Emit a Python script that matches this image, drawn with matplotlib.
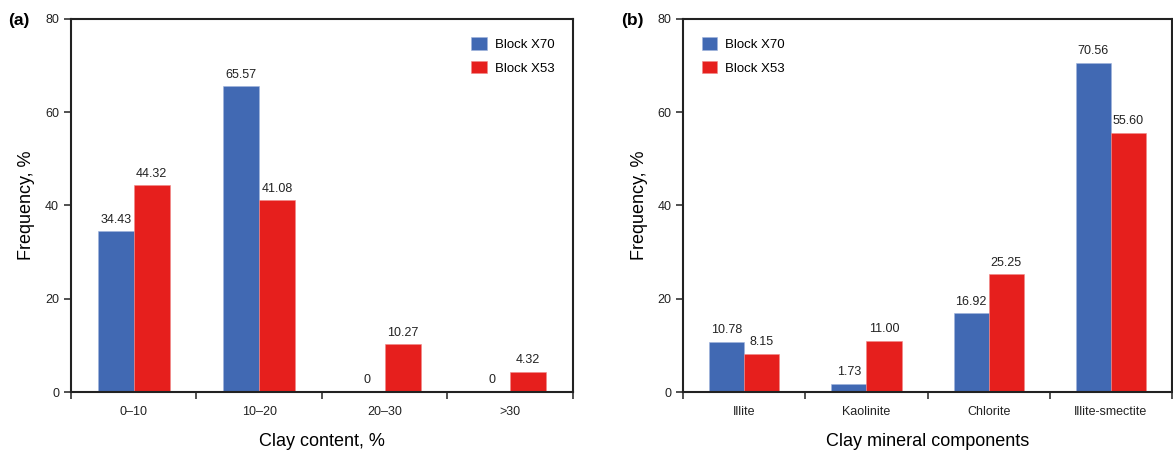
import matplotlib.pyplot as plt
import numpy as np

plt.rcParams['font.family'] = ['Liberation Sans', 'DejaVu Sans']

BLUE = '#4169B3'
RED = '#E61F1D'

content_cats = ['0\u201310', '10\u201320', '20\u201330', '>30']
content_x70 = [34.43, 65.57, 0, 0]
content_x53 = [44.32, 41.08, 10.27, 4.32]
content_x70_lbl = ['34.43', '65.57', '0', '0']
content_x53_lbl = ['44.32', '41.08', '10.27', '4.32']

mineral_cats = ['Illite', 'Kaolinite', 'Chlorite', 'Illite-smectite']
mineral_x70 = [10.78, 1.73, 16.92, 70.56]
mineral_x53 = [8.15, 11.00, 25.25, 55.60]
mineral_x70_lbl = ['10.78', '1.73', '16.92', '70.56']
mineral_x53_lbl = ['8.15', '11.00', '25.25', '55.60']

fig = plt.figure(figsize=(11.73, 4.51), dpi=100)
ax1 = fig.add_axes([0.0605, 0.1308, 0.428, 0.8271])
ax2 = fig.add_axes([0.5823, 0.1308, 0.4169, 0.8271])


def draw(ax, cats, v70, v53, l70, l53, xlabel, legend_loc):
    x = np.arange(len(cats))
    w = 0.287
    b1 = ax.bar(x - w / 2, v70, w, color=BLUE, edgecolor='#9fb3dc', linewidth=0.4, label='Block X70')
    b2 = ax.bar(x + w / 2, v53, w, color=RED, edgecolor='#f08a88', linewidth=0.4, label='Block X53')
    for rect, s in zip(b1, l70):
        ax.text(rect.get_x() + rect.get_width() / 2, rect.get_height() + 1.2, s,
                ha='center', va='bottom', fontsize=9, color='#222222')
    for rect, s in zip(b2, l53):
        ax.text(rect.get_x() + rect.get_width() / 2, rect.get_height() + 1.2, s,
                ha='center', va='bottom', fontsize=9, color='#222222')
    ax.set_xlim(-0.5, len(cats) - 0.5)
    ax.set_ylim(0, 80)
    ax.set_yticks([0, 20, 40, 60, 80])
    ax.set_xticks(np.arange(len(cats) + 1) - 0.5)
    ax.set_xticklabels([])
    ax.set_xticks(x, minor=True)
    ax.set_xticklabels(cats, minor=True)
    ax.tick_params(axis='x', which='minor', length=0, pad=10, labelsize=9, colors='#222222')
    ax.tick_params(axis='x', which='major', length=5, width=1.2, color='#333333')
    ax.tick_params(axis='y', length=5, width=1.2, color='#333333', labelsize=9, labelcolor='#222222')
    for sp in ax.spines.values():
        sp.set_linewidth(1.5)
        sp.set_color('#222222')
    ax.set_ylabel('Frequency, %', fontsize=13, labelpad=7)
    ax.set_xlabel(xlabel, fontsize=13, labelpad=11)
    ax.legend(loc=legend_loc, frameon=False, fontsize=9.5, handlelength=1.2, handleheight=1.05,
              handletextpad=0.6, borderaxespad=1.0, labelspacing=0.75)


draw(ax1, content_cats, content_x70, content_x53, content_x70_lbl, content_x53_lbl,
     'Clay content, %', 'upper right')
draw(ax2, mineral_cats, mineral_x70, mineral_x53, mineral_x70_lbl, mineral_x53_lbl,
     'Clay mineral components', 'upper left')

fig.text(8 / 1173, 1 - 21 / 451, '(a)', fontsize=12.5, fontweight='bold', ha='left', va='center')
fig.text(621 / 1173, 1 - 21 / 451, '(b)', fontsize=12.5, fontweight='bold', ha='left', va='center')

fig.savefig('out.png', dpi=100)
